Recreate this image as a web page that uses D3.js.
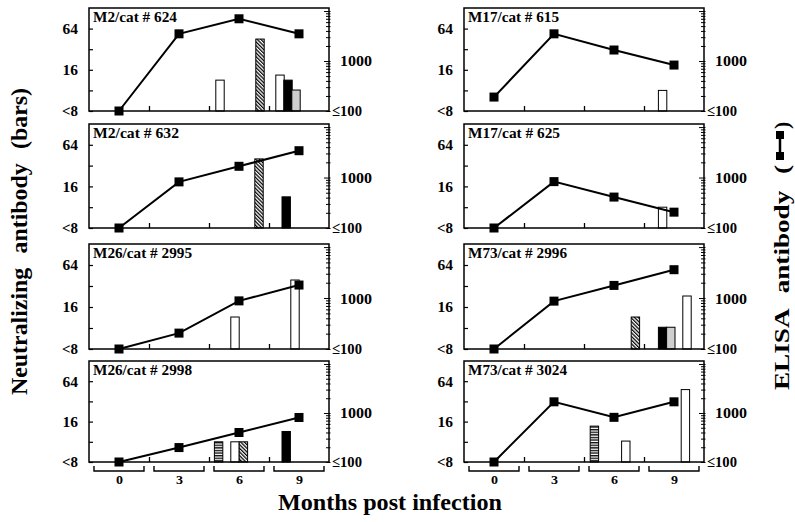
<!DOCTYPE html>
<html><head><meta charset="utf-8">
<script src="https://cdn.jsdelivr.net/npm/d3@7"></script>
<style>body{margin:0;background:#fff}svg{display:block}text{font-family:"Liberation Serif","Times New Roman",serif;font-weight:bold}</style>
</head><body>
<script>
// ---------- data ----------
const months = [0, 3, 6, 9];
const titles = ["M2/cat # 624", "M2/cat # 632", "M26/cat # 2995", "M26/cat # 2998",
                "M17/cat # 615", "M17/cat # 625", "M73/cat # 2996", "M73/cat # 3024"];
// ELISA antibody titres (right axis) at months 0,3,6,9
const elisa624  = [100, 3500, 7000, 3500];
const elisa632  = [100, 820, 1670, 3400];
const elisa2995 = [100, 205, 880, 1800];
const elisa2998 = [100, 197, 400, 810];
const elisa615  = [190, 3500, 1660, 830];
const elisa625  = [100, 830, 410, 206];
const elisa2996 = [100, 870, 1770, 3600];
const elisa3024 = [100, 1690, 815, 1690];
// Neutralizing antibody bars (left axis): t = position in months, kind = fill pattern, v = titre
const neut624  = [{t:5.05,kind:"open",v:11.3},{t:7.05,kind:"hatch",v:45},{t:8.05,kind:"open",v:13.4},{t:8.45,kind:"black",v:11.3},{t:8.85,kind:"dots",v:8.1}];
const neut632  = [{t:7.0,kind:"hatch",v:40},{t:8.36,kind:"black",v:11.3}];
const neut2995 = [{t:5.8,kind:"open",v:11.5},{t:8.8,kind:"open",v:39}];
const neut2998 = [{t:4.98,kind:"hstripe",v:8},{t:5.8,kind:"open",v:8},{t:6.22,kind:"hatch",v:8},{t:8.36,kind:"black",v:11.4}];
const neut615  = [{t:8.43,kind:"open",v:8}];
const neut625  = [{t:8.43,kind:"open",v:8}];
const neut2996 = [{t:7.07,kind:"hatch",v:11.5},{t:8.43,kind:"black",v:8.2},{t:8.84,kind:"dots",v:8.2},{t:9.65,kind:"open",v:23}];
const neut3024 = [{t:5.02,kind:"hstripe",v:13.7},{t:6.59,kind:"open",v:8.2},{t:9.57,kind:"open",v:48}];
// axis ticks
const neutTickValues = [4, 8, 16, 32, 64];
const neutTickLabels = {4:"<8", 16:"16", 64:"64"};
const elisaTickValues = [100,200,300,400,500,600,700,800,900,1000,2000,3000,4000,5000,6000,7000,8000,9000,10000];
const elisaTickLabels = {100:"\u2264100", 1000:"1000"};
const xDividers = [1.5, 4.5, 7.5];
const xTitle = "Months post infection";
const yLeftTitle = "Neutralizing antibody (bars)";
const yRightTitle = "ELISA antibody (";

// ---------- layout (printed widths of the labels, px) ----------
const W = 795, H = 522;
const colX = [[89, 329], [464, 704]];
const rowY = [[8, 111], [124, 228], [244, 349], [361, 462]];
const FS = 15.5;
const titleWidths = [84, 86, 99, 99, 91, 92, 99, 99];
const neutLabelWidths = {4: 16, 16: 15.5, 64: 15.5};
const elisaLabelWidths = {100: 30, 1000: 32};

const panels = [
  {title:titles[0], tw:titleWidths[0], elisa:elisa624,  bars:neut624,  col:0, row:0},
  {title:titles[1], tw:titleWidths[1], elisa:elisa632,  bars:neut632,  col:0, row:1},
  {title:titles[2], tw:titleWidths[2], elisa:elisa2995, bars:neut2995, col:0, row:2},
  {title:titles[3], tw:titleWidths[3], elisa:elisa2998, bars:neut2998, col:0, row:3},
  {title:titles[4], tw:titleWidths[4], elisa:elisa615,  bars:neut615,  col:1, row:0},
  {title:titles[5], tw:titleWidths[5], elisa:elisa625,  bars:neut625,  col:1, row:1},
  {title:titles[6], tw:titleWidths[6], elisa:elisa2996, bars:neut2996, col:1, row:2},
  {title:titles[7], tw:titleWidths[7], elisa:elisa3024, bars:neut3024, col:1, row:3}
];

const svg = d3.select("body").append("svg").attr("width", W).attr("height", H);

const defs = svg.append("defs");
const ph = defs.append("pattern").attr("id","hatch").attr("patternUnits","userSpaceOnUse")
  .attr("width",2.6).attr("height",2.6).attr("patternTransform","rotate(-45)");
ph.append("rect").attr("width",2.6).attr("height",2.6).attr("fill","#fff");
ph.append("line").attr("x1",0.6).attr("y1",0).attr("x2",0.6).attr("y2",2.6).attr("stroke","#000").attr("stroke-width",1.3);
const ps = defs.append("pattern").attr("id","hstripe").attr("patternUnits","userSpaceOnUse")
  .attr("width",4).attr("height",2.6);
ps.append("rect").attr("width",4).attr("height",2.6).attr("fill","#fff");
ps.append("line").attr("x1",0).attr("y1",0.7).attr("x2",4).attr("y2",0.7).attr("stroke","#000").attr("stroke-width",1.3);
const fills = {open:"#fff", black:"#000", dots:"#cfcfcf", hatch:"url(#hatch)", hstripe:"url(#hstripe)"};

panels.forEach(p => {
  const [x0, x1] = colX[p.col];
  const [top, bottom] = rowY[p.row];
  const x = d3.scaleLinear().domain([-1.5, 10.5]).range([x0, x1]);
  const yN = d3.scaleLog().base(2).domain([4, 128]).range([bottom, top]);
  const yE = d3.scaleLog().domain([100, 11500]).range([bottom, top]);
  const g = svg.append("g");
  const halfW = 0.21;

  // bars
  g.selectAll("rect.bar").data(p.bars).join("rect").attr("class","bar")
    .attr("x", d => x(d.t - halfW)).attr("width", d => x(d.t + halfW) - x(d.t - halfW))
    .attr("y", d => yN(d.v)).attr("height", d => yN(4) - yN(d.v))
    .attr("fill", d => fills[d.kind]).attr("stroke", "#000").attr("stroke-width", 1);

  // left axis
  const la = g.append("g").attr("transform", `translate(${x0},0)`)
    .call(d3.axisLeft(yN).tickValues(neutTickValues).tickSize(-4).tickPadding(11)
      .tickFormat(d => neutTickLabels[d] || ""));
  la.select(".domain").remove();
  la.selectAll("line").attr("stroke-width", 1.2);
  la.selectAll("text").attr("font-family", null).attr("font-size", FS).attr("fill", "#000")
    .filter(d => neutLabelWidths[d])
    .attr("textLength", d => neutLabelWidths[d]).attr("lengthAdjust", "spacingAndGlyphs");

  // right axis
  const ra = g.append("g").attr("transform", `translate(${x1},0)`)
    .call(d3.axisRight(yE).tickValues(elisaTickValues).tickSize(-3).tickPadding(0)
      .tickFormat(d => elisaTickLabels[d] || ""));
  ra.select(".domain").remove();
  ra.selectAll(".tick line").attr("stroke-width", 1).attr("x2", d => (d === 1000 || d === 10000) ? -5 : -3)
    .attr("x1", 1.5);
  ra.selectAll("text").attr("font-family", null).attr("font-size", FS).attr("fill", "#000")
    .attr("x", d => (d === 100 ? 3 : 11))
    .filter(d => elisaLabelWidths[d])
    .attr("textLength", d => elisaLabelWidths[d]).attr("lengthAdjust", "spacingAndGlyphs");

  // bottom axis (inner divider ticks)
  const ba = g.append("g").attr("transform", `translate(0,${bottom})`)
    .call(d3.axisBottom(x).tickValues(xDividers).tickSize(-5).tickFormat(""));
  ba.select(".domain").remove();
  ba.selectAll("line").attr("stroke-width", 1.3);

  // ELISA line and squares
  const pts = months.map((m, i) => ({m, v: p.elisa[i]}));
  g.append("path").datum(pts)
    .attr("d", d3.line().x(d => x(d.m)).y(d => yE(d.v)))
    .attr("fill", "none").attr("stroke", "#000").attr("stroke-width", 2);
  const s = 9;
  g.selectAll("rect.pt").data(pts).join("rect").attr("class","pt")
    .attr("x", d => x(d.m) - s / 2).attr("y", d => yE(d.v) - s / 2)
    .attr("width", s).attr("height", s).attr("fill", "#000");

  // frame
  g.append("rect").attr("x", x0).attr("y", top).attr("width", x1 - x0).attr("height", bottom - top)
    .attr("fill", "none").attr("stroke", "#000").attr("stroke-width", 1.5);

  // title
  g.append("text").attr("x", x0 + 4).attr("y", top + 14)
    .attr("font-size", FS).attr("textLength", p.tw).attr("lengthAdjust", "spacingAndGlyphs")
    .text(p.title);

  // month brackets + labels on bottom row
  if (p.row === 3) {
    months.forEach(m => {
      g.append("path")
        .attr("d", `M${x(m - 1.25)},${bottom + 4}V${bottom + 9}H${x(m + 1.25)}V${bottom + 4}`)
        .attr("fill", "none").attr("stroke", "#000").attr("stroke-width", 1.4);
    });
    const xa = g.append("g").attr("transform", `translate(0,${bottom + 10})`)
      .call(d3.axisBottom(x).tickValues(months).tickSize(0).tickPadding(2).tickFormat(d3.format("d")));
    xa.select(".domain").remove();
    xa.selectAll("text").attr("font-family", null).attr("font-size", 13.5).attr("fill", "#000")
      .attr("textLength", 7).attr("lengthAdjust", "spacingAndGlyphs");
  }
});

// axis titles
svg.append("text").attr("x", 390).attr("y", 510).attr("text-anchor", "middle")
  .attr("font-size", 22.5).attr("textLength", 224).attr("lengthAdjust", "spacingAndGlyphs")
  .text(xTitle);

svg.append("text").attr("transform", "translate(27,395) rotate(-90)")
  .attr("font-size", 23).style("word-spacing", "8px")
  .attr("textLength", 307).attr("lengthAdjust", "spacingAndGlyphs").text(yLeftTitle);

const rg = svg.append("g").attr("transform", "translate(789,390) rotate(-90)");
rg.append("text").attr("x", 0).attr("y", 0).attr("font-size", 22).style("word-spacing", "8px")
  .attr("textLength", 225).attr("lengthAdjust", "spacingAndGlyphs").text(yRightTitle);
const sa = 230, sb = 259;
rg.append("line").attr("x1", sa + 3).attr("x2", sb - 3).attr("y1", -9).attr("y2", -9)
  .attr("stroke", "#000").attr("stroke-width", 2.5);
rg.append("rect").attr("x", sa).attr("y", -13).attr("width", 8).attr("height", 8).attr("fill", "#000");
rg.append("rect").attr("x", sb - 8).attr("y", -13).attr("width", 8).attr("height", 8).attr("fill", "#000");
rg.append("text").attr("x", sb + 2).attr("y", 0).attr("font-size", 22).text(")");
</script>
</body></html>
